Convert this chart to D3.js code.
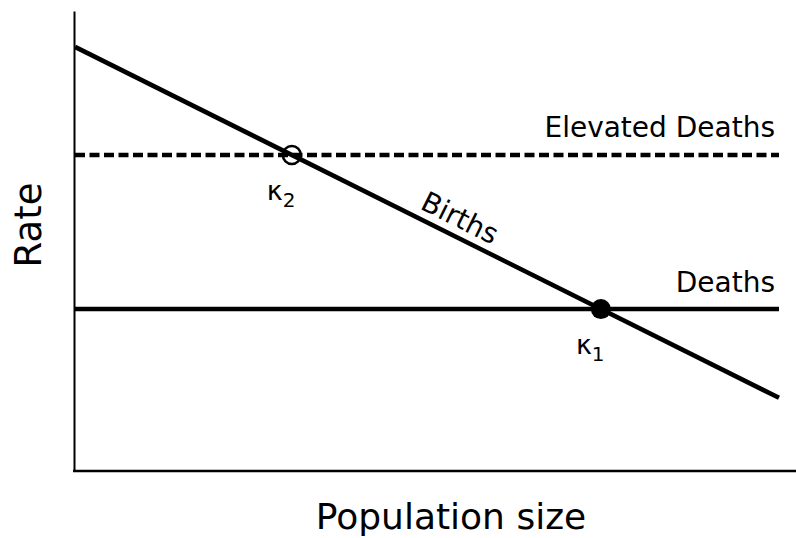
<!DOCTYPE html>
<html>
<head>
<meta charset="utf-8">
<script src="https://cdn.jsdelivr.net/npm/d3@7"></script>
<style>
  body { margin: 0; background: #fff; }
  svg { display: block; font-family: "DejaVu Sans", Verdana, sans-serif; }
</style>
</head>
<body>
<svg id="chart" width="796" height="538"></svg>
<script>
// conceptual model: rates vs population size (arbitrary units 0-100)
const birthsX = [0, 100];
const birthsY = [92.2, 15.9];
const deathsY = 35.2;
const elevatedY = 68.7;
const equilibria = [
    { name: "K1", x: 74.7, y: 35.2, filled: true, sub: "1" },
    { name: "K2", x: 30.8, y: 68.7, filled: false, sub: "2" }
];

const svg = d3.select('#chart');
const x = d3.scaleLinear().domain([0, 100]).range([75, 779]);
const y = d3.scaleLinear().domain([0, 100]).range([471, 11]);

// axes, no ticks
svg.append('g')
    .attr('transform', `translate(${x(0) - 1},0)`)
    .call(d3.axisLeft(y).ticks(0).tickSizeOuter(0))
    .call(g => g.select('.domain').attr('stroke', '#000').attr('stroke-width', 2));

svg.append('line')
    .attr('x1', x(0) - 2).attr('x2', 796)
    .attr('y1', y(0)).attr('y2', y(0))
    .attr('stroke', '#000').attr('stroke-width', 2.5);

// death lines
svg.append('line')
    .attr('x1', x(0)).attr('x2', x(100))
    .attr('y1', y(elevatedY)).attr('y2', y(elevatedY))
    .attr('stroke', '#000').attr('stroke-width', 4.5)
    .attr('stroke-dasharray', '10,4.5');

svg.append('line')
    .attr('x1', x(0)).attr('x2', x(100))
    .attr('y1', y(deathsY)).attr('y2', y(deathsY))
    .attr('stroke', '#000').attr('stroke-width', 4.5);

// births
const line = d3.line().x(d => x(d[0])).y(d => y(d[1]));
svg.append('path')
    .datum(d3.zip(birthsX, birthsY))
    .attr('d', line)
    .attr('fill', 'none')
    .attr('stroke', '#000').attr('stroke-width', 4.5);

// equilibrium points
svg.selectAll('circle.eq')
    .data(equilibria)
    .join('circle')
    .attr('class', 'eq')
    .attr('cx', d => x(d.x))
    .attr('cy', d => y(d.y))
    .attr('r', d => d.filled ? 10 : 9)
    .attr('fill', d => d.filled ? '#000' : 'none')
    .attr('stroke', '#000')
    .attr('stroke-width', d => d.filled ? 0 : 2.5);

const kLabels = svg.selectAll('text.k')
    .data(equilibria)
    .join('text')
    .attr('class', 'k')
    .attr('x', d => x(d.x) - 25)
    .attr('y', d => y(d.y) + 45)
    .style('font-size', '27px');
kLabels.append('tspan').text('κ');
kLabels.append('tspan')
    .attr('dy', 7)
    .style('font-size', '20px')
    .text(d => d.sub);

// line labels
svg.append('text')
    .attr('x', 775).attr('y', y(elevatedY) - 18)
    .attr('text-anchor', 'end')
    .style('font-size', '28px')
    .text('Elevated Deaths');

svg.append('text')
    .attr('x', 775).attr('y', y(deathsY) - 17)
    .attr('text-anchor', 'end')
    .style('font-size', '28px')
    .text('Deaths');

const angle = Math.atan2(y(birthsY[1]) - y(birthsY[0]), x(birthsX[1]) - x(birthsX[0])) * 180 / Math.PI;
const bx = 53.5;
const by = birthsY[0] + (birthsY[1] - birthsY[0]) * bx / 100;
svg.append('text')
    .attr('transform', `translate(${x(bx)},${y(by)}) rotate(${angle})`)
    .attr('text-anchor', 'middle')
    .attr('dy', -9)
    .style('font-size', '28px')
    .text('Births');

// axis titles
svg.append('text')
    .attr('x', 451).attr('y', 529)
    .attr('text-anchor', 'middle')
    .style('font-size', '36px')
    .text('Population size');

svg.append('text')
    .attr('transform', 'translate(41,225) rotate(-90)')
    .attr('text-anchor', 'middle')
    .style('font-size', '37px')
    .text('Rate');
</script>
</body>
</html>
